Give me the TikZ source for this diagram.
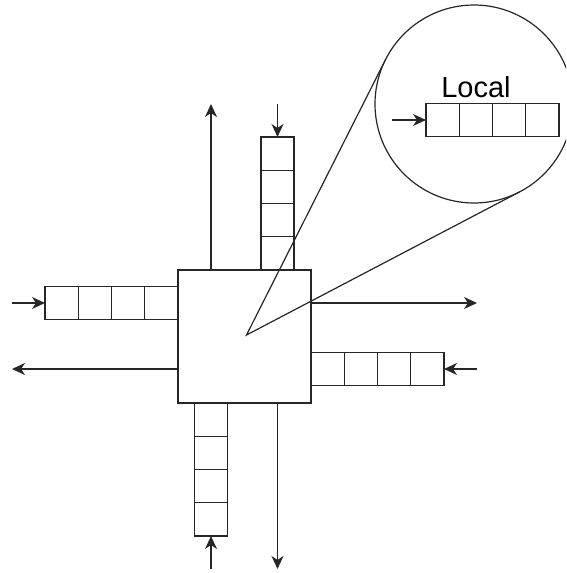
\documentclass[tikz,border=0pt]{standalone}
\usepackage{fontspec}
\setmainfont{Liberation Sans}
\usetikzlibrary{arrows.meta,calc}

\tikzset{
  wire/.style={line width=1.35pt, draw=black!85},
  thinwire/.style={line width=1.2pt, draw=black!85},
  flow/.style={wire, -{Stealth[length=13pt,width=12pt,inset=4pt]}},
  cell/.style={draw=black!85, line width=1.35pt, minimum size=33.25pt,
               inner sep=0pt, outer sep=0pt},
  routerbox/.style={draw=black!85, line width=1.35pt, minimum size=133pt,
               inner sep=0pt, outer sep=0pt},
  lens/.style={circle, draw=black!85, line width=1.2pt, minimum size=198pt,
               inner sep=0pt, outer sep=0pt},
}

\begin{document}
\begin{tikzpicture}[x=1pt,y=-1pt]
\useasboundingbox (0,0) rectangle (566,573);
\clip (0,0) rectangle (566,573);

% central router
\node[routerbox] (router) at (244.5,336.5) {};

% north input buffer (stacked upwards from the router)
\node[cell] (n1) at (277.5,253.4) {};
\node[cell] (n2) at (277.5,220.1) {};
\node[cell] (n3) at (277.5,186.9) {};
\node[cell] (n4) at (277.5,153.6) {};
% west input buffer
\node[cell] (w1) at (161.4,303) {};
\node[cell] (w2) at (128.1,303) {};
\node[cell] (w3) at (94.9,303) {};
\node[cell] (w4) at (61.6,303) {};
% east input buffer
\node[cell] (e1) at (327.6,369) {};
\node[cell] (e2) at (360.9,369) {};
\node[cell] (e3) at (394.1,369) {};
\node[cell] (e4) at (427.4,369) {};
% south input buffer
\node[cell] (s1) at (211,419.6) {};
\node[cell] (s2) at (211,452.9) {};
\node[cell] (s3) at (211,486.1) {};
\node[cell] (s4) at (211,519.4) {};

% free ends of the links
\coordinate (nin)  at (277.5,104);
\coordinate (nout) at (211,104);
\coordinate (win)  at (12,303);
\coordinate (wout) at (12,369);
\coordinate (ein)  at (477,369);
\coordinate (eout) at (477,303);
\coordinate (sin)  at (211,569);
\coordinate (sout) at (277.5,569);

% incoming flits
\draw[flow] (nin) -- (n4.north);
\draw[flow] (win) -- (w4.west);
\draw[flow] (ein) -- (e4.east);
\draw[flow] (sin) -- (s4.south);
% outgoing flits
\draw[flow] (router.north -| nout) -- (nout);
\draw[flow] (router.west |- wout) -- (wout);
\draw[flow] (router.east |- eout) -- (eout);
\draw[flow] (router.south -| sout) -- (sout);

% magnified view of the local port
\node[lens] (lens) at (474,104) {};
\coordinate (focus) at (246.5,335);
\draw[thinwire, line join=miter]
  (tangent cs:node=lens,point={(focus)},solution=1) -- (focus)
  -- (tangent cs:node=lens,point={(focus)},solution=2);

\node[cell] (l1) at (442.6,120) {};
\node[cell] (l2) at (475.9,120) {};
\node[cell] (l3) at (509.1,120) {};
\node[cell] (l4) at (542.4,120) {};
\coordinate (lin) at (392,120);
\draw[flow] (lin) -- (l1.west);
\node[anchor=base, inner sep=0pt, font=\fontsize{29}{34}\selectfont] (locallabel)
  at (476,97) {Local};
\end{tikzpicture}
\end{document}
